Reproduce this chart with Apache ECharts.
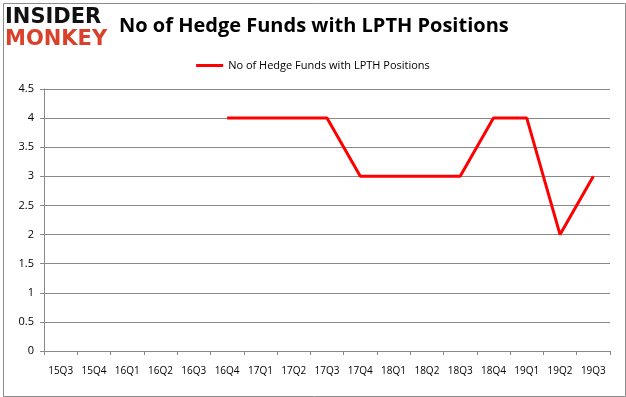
<!DOCTYPE html>
<html>
<head>
<meta charset="utf-8">
<script src="https://cdn.jsdelivr.net/npm/echarts@6/dist/echarts.min.js"></script>
<style>
  html, body { margin: 0; padding: 0; background: #fff; }
  #chart { width: 626px; height: 397px; }
</style>
</head>
<body>
<div id="chart"></div>
<script>
// quarters on the x axis
const quarters = ['15Q3', '15Q4', '16Q1', '16Q2', '16Q3', '16Q4', '17Q1', '17Q2', '17Q3',
  '17Q4', '18Q1', '18Q2', '18Q3', '18Q4', '19Q1', '19Q2', '19Q3']
// hedge fund counts (no data before 16Q4)
const fundCounts = [null, null, null, null, null, 4, 4, 4, 4, 3, 3, 3, 3, 4, 4, 2, 3]
const seriesName = 'No of Hedge Funds with LPTH Positions'

const chart = echarts.init(document.getElementById('chart'))
const option = {
  animation: false,
  textStyle: { fontFamily: 'Open Sans, sans-serif', color: '#000' },
  title: {
    text: 'No of Hedge Funds with LPTH Positions',
    left: 114,
    top: 11,
    textStyle: { fontSize: 20, fontWeight: 'bold', color: '#000', fontFamily: 'Open Sans, sans-serif' }
  },
  graphic: [
    { type: 'rect', left: 1, top: 1, shape: { width: 622, height: 393 }, style: { fill: 'none', stroke: '#8c8c8c', lineWidth: 1 } },
    { type: 'text', left: 5, top: 7, style: { text: 'INSIDER', fill: '#111', font: 'bold 21px "DejaVu Sans", sans-serif' } },
    { type: 'text', left: 5, top: 29, style: { text: 'MONKEY', fill: '#d9412b', font: 'bold 21px "DejaVu Sans", sans-serif' } }
  ],
  legend: {
    top: 55,
    left: 'center',
    itemWidth: 27,
    itemHeight: 3,
    icon: 'rect',
    textStyle: { fontSize: 11, color: '#000' },
    data: [seriesName]
  },
  grid: { left: 44, right: 16, top: 89, bottom: 46 },
  xAxis: {
    type: 'category',
    data: quarters,
    boundaryGap: true,
    axisLine: { lineStyle: { color: '#888' } },
    axisTick: { show: true, length: 4, interval: 0, lineStyle: { color: '#888' } },
    axisLabel: { fontSize: 10, color: '#000', margin: 15, interval: 0 }
  },
  yAxis: {
    type: 'value',
    min: 0,
    max: 4.5,
    interval: 0.5,
    axisLine: { show: true, lineStyle: { color: '#888' } },
    axisTick: { show: true, length: 4, lineStyle: { color: '#888' } },
    axisLabel: { fontSize: 11, color: '#000', margin: 10 },
    splitLine: { lineStyle: { color: '#888' } }
  },
  series: [{
    name: seriesName,
    type: 'line',
    data: fundCounts,
    symbol: 'none',
    color: '#ff0000',
    lineStyle: { width: 3, color: '#ff0000' }
  }]
}
chart.setOption(option)
</script>
</body>
</html>
